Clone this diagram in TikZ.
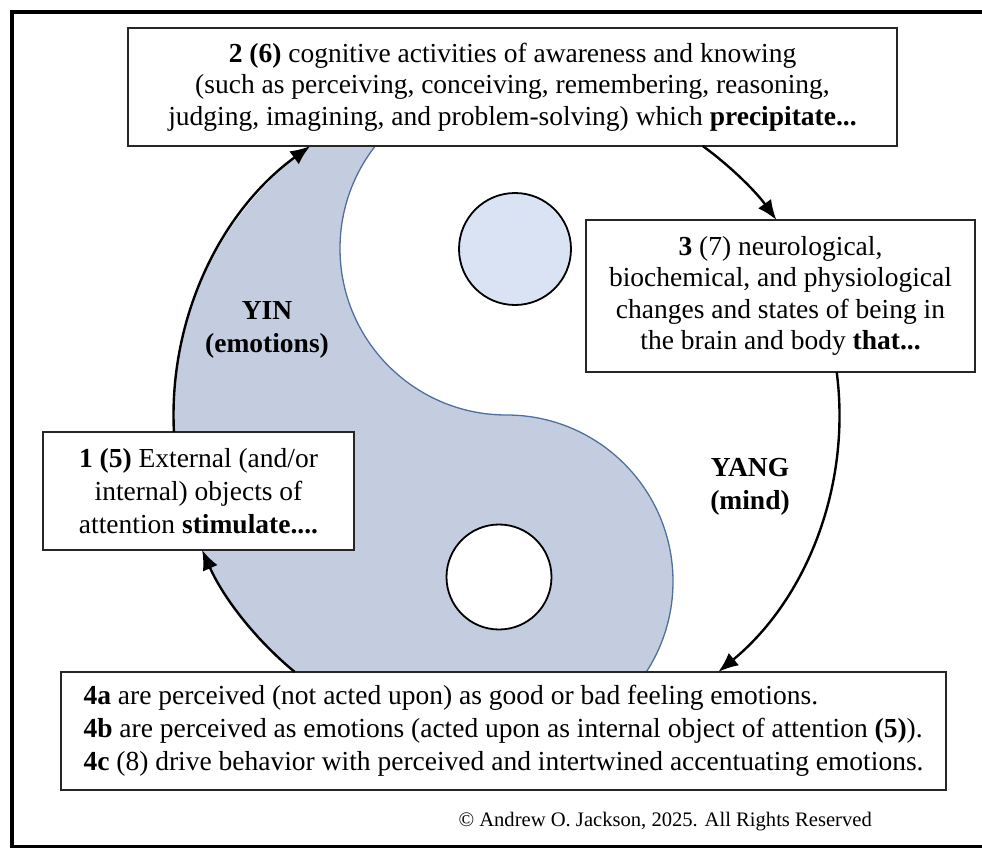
\documentclass[tikz,border=0pt]{standalone}
\usepackage{fontspec}
\setmainfont{Liberation Serif}
\usetikzlibrary{arrows.meta,calc}
\definecolor{yinfill}{RGB}{196,205,224}
\definecolor{dotfill}{RGB}{218,227,243}
\definecolor{sline}{RGB}{80,110,160}
\begin{document}
\begin{tikzpicture}[x=1pt,y=-1pt,
  box/.style={draw=black!85, line width=1.8pt, fill=white, inner sep=0pt, align=center,
    font=\fontsize{27.5pt}{31.5pt}\selectfont},
  flow/.style={line width=2.4pt, -{Latex[length=20pt,width=16pt]}},
  lab/.style={font=\fontsize{27.5pt}{33pt}\selectfont\bfseries, align=center, inner sep=0pt},
  dot/.style={draw=black, line width=1.8pt}]
\useasboundingbox (0,0) rectangle (982,848);
\clip (0,0) rectangle (982,848);
% outer frame (its right side lies outside the picture)
\coordinate (ftr) at (982,12);
\coordinate (fbr) at (982,847);
\draw[line width=3.5pt, line join=miter] (ftr) -- (12,12) -- (12,847) -- (fbr);
% yin region
\coordinate (C) at (506.5,415);
\fill[yinfill] (506.5,82) arc[start angle=270,end angle=90,radius=333]
  arc[start angle=90,end angle=-90,radius=166.5]
  arc[start angle=90,end angle=270,radius=166.5] -- cycle;
\draw[sline, line width=1.3pt] (506.5,82) arc[start angle=270,end angle=90,radius=166.5]
  arc[start angle=-90,end angle=90,radius=166.5];
% small circles
\node[dot, fill=dotfill, circle, minimum size=112pt, inner sep=0pt] (updot) at (515,249) {};
\node[dot, fill=white, circle, minimum size=105pt, inner sep=0pt] (lowdot) at (499,577) {};
% boxes
\node[box, minimum width=769pt, minimum height=118pt] (b2) at (512.5,87)
  {\textbf{2 (6)} cognitive activities of awareness and knowing\\
   (such as perceiving, conceiving, remembering, reasoning,\\
   judging, imagining, and problem-solving) which \textbf{precipitate...}};
\node[box, minimum width=389pt, minimum height=152pt] (b3) at (780.5,296)
  {\textbf{3} (7) neurological,\\biochemical, and physiological\\changes and states of being in\\the brain and body \textbf{that...}};
\node[box, minimum width=311pt, minimum height=118pt, font=\fontsize{27.5pt}{33pt}\selectfont] (b1) at (198.5,491)
  {\textbf{1 (5)} External (and/or\\internal) objects of\\attention \textbf{stimulate....}};
\node[box, align=left, minimum width=885pt, minimum height=118pt, font=\fontsize{27.5pt}{33pt}\selectfont] (b4) at (503.5,731)
  {\textbf{4a} are perceived (not acted upon) as good or bad feeling emotions.\\
   \textbf{4b} are perceived as emotions (acted upon as internal object of attention \textbf{(5)}).\\
   \textbf{4c} (8) drive behavior with perceived and intertwined accentuating emotions.};
% connectors along the circle
\path (C) ++(177.1:333) coordinate (a1s);
\path (C) ++(-53.9:333) coordinate (a2s);
\path (C) ++(-7.42:333) coordinate (a3s);
\path (C) ++(129.5:333) coordinate (a4s);
\draw[flow] (a1s) arc[start angle=177.1,end angle=233.9,radius=333];
\draw[flow] (a2s) arc[start angle=-53.9,end angle=-35.85,radius=333];
\draw[flow] (a3s) arc[start angle=-7.42,end angle=50.5,radius=333];
\draw[flow] (a4s) arc[start angle=129.5,end angle=156.1,radius=333];
% labels
\node[lab] (yin) at (267,330) {YIN\\(emotions)};
\node[lab] (yang) at (750,487) {YANG\\(mind)};
\node[anchor=base east, inner sep=0pt, font=\fontsize{20.6pt}{24pt}\selectfont] (copy) at (872,826)
  {© Andrew O. Jackson, 2025. All Rights Reserved};
\end{tikzpicture}
\end{document}
